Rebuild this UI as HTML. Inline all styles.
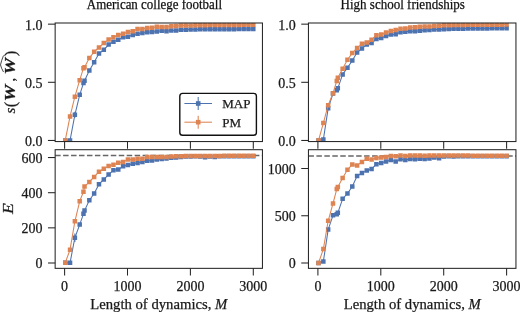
<!DOCTYPE html>
<html><head><meta charset="utf-8"><title>chart</title><style>html,body{margin:0;padding:0;background:#fff;overflow:hidden}
svg{display:block;will-change:transform}
text{font-family:"Liberation Serif",serif;fill:#1a1a1a;stroke:#1a1a1a;stroke-width:0.25px}
.ti{font-size:14px;fill:#111;stroke:#111;stroke-width:0.25px}
.tk{font-size:14px}
.lg{font-size:13px}
.xl{font-size:14.7px}
.yl{font-size:15px}
</style></head><body>
<svg width="520" height="312" viewBox="0 0 520 312">
<rect width="520" height="312" fill="#fff"/>
<text x="86.8" y="8.8" class="ti" textLength="135.2" lengthAdjust="spacingAndGlyphs">American college football</text>
<text x="340.6" y="8.8" class="ti" textLength="124.3" lengthAdjust="spacingAndGlyphs">High school friendships</text>
<line x1="55.15" y1="155.4" x2="262.45" y2="155.4" stroke="#666" stroke-width="1.5" stroke-dasharray="5.5 2.45"/>
<line x1="308.45" y1="155.9" x2="515.95" y2="155.9" stroke="#666" stroke-width="1.5" stroke-dasharray="5.5 2.45"/>
<defs><clipPath id="cTL"><rect x="55.15" y="23" width="207.3" height="118.55"/></clipPath><clipPath id="cBL"><rect x="55.15" y="149.7" width="207.3" height="118.65"/></clipPath><clipPath id="cTR"><rect x="308.45" y="23" width="207.5" height="118.55"/></clipPath><clipPath id="cBR"><rect x="308.45" y="149.7" width="207.5" height="118.65"/></clipPath></defs>
<g clip-path="url(#cTL)">
<line x1="74.87" y1="111.8" x2="74.87" y2="117.8" stroke="#4c72b0" stroke-width="1.1"/>
<polyline points="65.23,140.4 70.05,140.4 74.87,114.8 79.7,94.8 83.47,83.1 84.52,80.7 89.34,70.6 94.16,62.3 98.99,53.6 103.81,49.8 108.63,44.6 113.45,41.7 118.27,39.8 123.1,37.3 127.92,36.8 132.74,35 137.56,33.8 142.39,33.1 147.21,32.3 152.03,31.9 156.85,31.4 161.68,30.8 166.5,31.2 171.32,30.4 176.14,30.4 180.96,29.8 185.79,29.8 190.61,29.4 195.43,29.4 200.25,29.37 205.08,29.33 209.9,29.3 214.72,29.27 219.54,29.23 224.37,29.2 229.19,29.17 234.01,29.13 238.83,29.1 243.66,29.07 248.48,29.03 253.3,29" fill="none" stroke="#4c72b0" stroke-width="1.05" stroke-linejoin="round"/>
<path d="M62.98 138.15h4.5v4.5h-4.5zM67.8 138.15h4.5v4.5h-4.5zM72.62 112.55h4.5v4.5h-4.5zM77.45 92.55h4.5v4.5h-4.5zM81.22 80.85h4.5v4.5h-4.5zM82.27 78.45h4.5v4.5h-4.5zM87.09 68.35h4.5v4.5h-4.5zM91.91 60.05h4.5v4.5h-4.5zM96.74 51.35h4.5v4.5h-4.5zM101.56 47.55h4.5v4.5h-4.5zM106.38 42.35h4.5v4.5h-4.5zM111.2 39.45h4.5v4.5h-4.5zM116.02 37.55h4.5v4.5h-4.5zM120.85 35.05h4.5v4.5h-4.5zM125.67 34.55h4.5v4.5h-4.5zM130.49 32.75h4.5v4.5h-4.5zM135.31 31.55h4.5v4.5h-4.5zM140.14 30.85h4.5v4.5h-4.5zM144.96 30.05h4.5v4.5h-4.5zM149.78 29.65h4.5v4.5h-4.5zM154.6 29.15h4.5v4.5h-4.5zM159.43 28.55h4.5v4.5h-4.5zM164.25 28.95h4.5v4.5h-4.5zM169.07 28.15h4.5v4.5h-4.5zM173.89 28.15h4.5v4.5h-4.5zM178.71 27.55h4.5v4.5h-4.5zM183.54 27.55h4.5v4.5h-4.5zM188.36 27.15h4.5v4.5h-4.5zM193.18 27.15h4.5v4.5h-4.5zM198 27.12h4.5v4.5h-4.5zM202.83 27.08h4.5v4.5h-4.5zM207.65 27.05h4.5v4.5h-4.5zM212.47 27.02h4.5v4.5h-4.5zM217.29 26.98h4.5v4.5h-4.5zM222.12 26.95h4.5v4.5h-4.5zM226.94 26.92h4.5v4.5h-4.5zM231.76 26.88h4.5v4.5h-4.5zM236.58 26.85h4.5v4.5h-4.5zM241.41 26.82h4.5v4.5h-4.5zM246.23 26.78h4.5v4.5h-4.5zM251.05 26.75h4.5v4.5h-4.5z" fill="#4c72b0"/>
<polyline points="65.23,140.4 70.05,116.4 74.87,96.7 79.7,80.2 83.47,68.2 84.52,67.2 89.34,58.1 94.16,51.7 98.99,47.5 103.81,43.1 108.63,39.6 113.45,37.3 118.27,34.9 123.1,33.7 127.92,31.9 132.74,31.2 137.56,29.1 142.39,29.1 147.21,28.1 152.03,27.7 156.85,26.8 161.68,26.9 166.5,26.9 171.32,26.2 176.14,26 180.96,25.5 185.79,25.5 190.61,25.4 195.43,25.2 200.25,25.17 205.08,25.13 209.9,25.1 214.72,25.07 219.54,25.03 224.37,25 229.19,24.97 234.01,24.93 238.83,24.9 243.66,24.87 248.48,24.83 253.3,24.8" fill="none" stroke="#dd8452" stroke-width="1.05" stroke-linejoin="round"/>
<path d="M62.98 138.15h4.5v4.5h-4.5zM67.8 114.15h4.5v4.5h-4.5zM72.62 94.45h4.5v4.5h-4.5zM77.45 77.95h4.5v4.5h-4.5zM81.22 65.95h4.5v4.5h-4.5zM82.27 64.95h4.5v4.5h-4.5zM87.09 55.85h4.5v4.5h-4.5zM91.91 49.45h4.5v4.5h-4.5zM96.74 45.25h4.5v4.5h-4.5zM101.56 40.85h4.5v4.5h-4.5zM106.38 37.35h4.5v4.5h-4.5zM111.2 35.05h4.5v4.5h-4.5zM116.02 32.65h4.5v4.5h-4.5zM120.85 31.45h4.5v4.5h-4.5zM125.67 29.65h4.5v4.5h-4.5zM130.49 28.95h4.5v4.5h-4.5zM135.31 26.85h4.5v4.5h-4.5zM140.14 26.85h4.5v4.5h-4.5zM144.96 25.85h4.5v4.5h-4.5zM149.78 25.45h4.5v4.5h-4.5zM154.6 24.55h4.5v4.5h-4.5zM159.43 24.65h4.5v4.5h-4.5zM164.25 24.65h4.5v4.5h-4.5zM169.07 23.95h4.5v4.5h-4.5zM173.89 23.75h4.5v4.5h-4.5zM178.71 23.25h4.5v4.5h-4.5zM183.54 23.25h4.5v4.5h-4.5zM188.36 23.15h4.5v4.5h-4.5zM193.18 22.95h4.5v4.5h-4.5zM198 22.92h4.5v4.5h-4.5zM202.83 22.88h4.5v4.5h-4.5zM207.65 22.85h4.5v4.5h-4.5zM212.47 22.82h4.5v4.5h-4.5zM217.29 22.78h4.5v4.5h-4.5zM222.12 22.75h4.5v4.5h-4.5zM226.94 22.72h4.5v4.5h-4.5zM231.76 22.68h4.5v4.5h-4.5zM236.58 22.65h4.5v4.5h-4.5zM241.41 22.62h4.5v4.5h-4.5zM246.23 22.58h4.5v4.5h-4.5zM251.05 22.55h4.5v4.5h-4.5z" fill="#dd8452"/>
</g>
<g clip-path="url(#cBL)">
<line x1="74.87" y1="233.5" x2="74.87" y2="241.9" stroke="#4c72b0" stroke-width="1.1"/>
<polyline points="65.23,262.8 70.05,262.8 74.87,237.7 79.7,224.6 83.47,213.8 84.52,210.6 89.34,200.2 94.16,193.5 98.99,184.2 103.81,179.4 108.63,174.6 113.45,170.2 118.27,169.6 123.1,166.2 127.92,165 132.74,163.8 137.56,163.1 142.39,161.9 147.21,160.8 152.03,160.4 156.85,159.6 161.68,159 166.5,158.4 171.32,157.8 176.14,157.4 180.96,156.9 185.79,156.6 190.61,156.4 195.43,156.3 200.25,156.6 205.08,157.2 209.9,156.5 214.72,157.1 219.54,156.3 224.37,156.29 229.19,156.27 234.01,156.26 238.83,156.24 243.66,156.23 248.48,156.21 253.3,156.2" fill="none" stroke="#4c72b0" stroke-width="1.05" stroke-linejoin="round"/>
<path d="M62.98 260.55h4.5v4.5h-4.5zM67.8 260.55h4.5v4.5h-4.5zM72.62 235.45h4.5v4.5h-4.5zM77.45 222.35h4.5v4.5h-4.5zM81.22 211.55h4.5v4.5h-4.5zM82.27 208.35h4.5v4.5h-4.5zM87.09 197.95h4.5v4.5h-4.5zM91.91 191.25h4.5v4.5h-4.5zM96.74 181.95h4.5v4.5h-4.5zM101.56 177.15h4.5v4.5h-4.5zM106.38 172.35h4.5v4.5h-4.5zM111.2 167.95h4.5v4.5h-4.5zM116.02 167.35h4.5v4.5h-4.5zM120.85 163.95h4.5v4.5h-4.5zM125.67 162.75h4.5v4.5h-4.5zM130.49 161.55h4.5v4.5h-4.5zM135.31 160.85h4.5v4.5h-4.5zM140.14 159.65h4.5v4.5h-4.5zM144.96 158.55h4.5v4.5h-4.5zM149.78 158.15h4.5v4.5h-4.5zM154.6 157.35h4.5v4.5h-4.5zM159.43 156.75h4.5v4.5h-4.5zM164.25 156.15h4.5v4.5h-4.5zM169.07 155.55h4.5v4.5h-4.5zM173.89 155.15h4.5v4.5h-4.5zM178.71 154.65h4.5v4.5h-4.5zM183.54 154.35h4.5v4.5h-4.5zM188.36 154.15h4.5v4.5h-4.5zM193.18 154.05h4.5v4.5h-4.5zM198 154.35h4.5v4.5h-4.5zM202.83 154.95h4.5v4.5h-4.5zM207.65 154.25h4.5v4.5h-4.5zM212.47 154.85h4.5v4.5h-4.5zM217.29 154.05h4.5v4.5h-4.5zM222.12 154.04h4.5v4.5h-4.5zM226.94 154.02h4.5v4.5h-4.5zM231.76 154.01h4.5v4.5h-4.5zM236.58 153.99h4.5v4.5h-4.5zM241.41 153.98h4.5v4.5h-4.5zM246.23 153.96h4.5v4.5h-4.5zM251.05 153.95h4.5v4.5h-4.5z" fill="#4c72b0"/>
<polyline points="65.23,262.8 70.05,249.7 74.87,221.3 79.7,201.3 83.47,191.8 84.52,186.6 89.34,181.9 94.16,176.9 98.99,171.7 103.81,168.8 108.63,166 113.45,164.8 118.27,162.7 123.1,161.9 127.92,159.6 132.74,159.6 137.56,158.8 142.39,158.8 147.21,156.9 152.03,156.9 156.85,156.9 161.68,157.1 166.5,157.1 171.32,156.5 176.14,156.2 180.96,156.13 185.79,156.07 190.61,156 195.43,155.98 200.25,155.96 205.08,155.94 209.9,155.92 214.72,155.9 219.54,155.88 224.37,155.87 229.19,155.85 234.01,155.83 238.83,155.81 243.66,155.79 248.48,155.77 253.3,155.75" fill="none" stroke="#dd8452" stroke-width="1.05" stroke-linejoin="round"/>
<path d="M62.98 260.55h4.5v4.5h-4.5zM67.8 247.45h4.5v4.5h-4.5zM72.62 219.05h4.5v4.5h-4.5zM77.45 199.05h4.5v4.5h-4.5zM81.22 189.55h4.5v4.5h-4.5zM82.27 184.35h4.5v4.5h-4.5zM87.09 179.65h4.5v4.5h-4.5zM91.91 174.65h4.5v4.5h-4.5zM96.74 169.45h4.5v4.5h-4.5zM101.56 166.55h4.5v4.5h-4.5zM106.38 163.75h4.5v4.5h-4.5zM111.2 162.55h4.5v4.5h-4.5zM116.02 160.45h4.5v4.5h-4.5zM120.85 159.65h4.5v4.5h-4.5zM125.67 157.35h4.5v4.5h-4.5zM130.49 157.35h4.5v4.5h-4.5zM135.31 156.55h4.5v4.5h-4.5zM140.14 156.55h4.5v4.5h-4.5zM144.96 154.65h4.5v4.5h-4.5zM149.78 154.65h4.5v4.5h-4.5zM154.6 154.65h4.5v4.5h-4.5zM159.43 154.85h4.5v4.5h-4.5zM164.25 154.85h4.5v4.5h-4.5zM169.07 154.25h4.5v4.5h-4.5zM173.89 153.95h4.5v4.5h-4.5zM178.71 153.88h4.5v4.5h-4.5zM183.54 153.82h4.5v4.5h-4.5zM188.36 153.75h4.5v4.5h-4.5zM193.18 153.73h4.5v4.5h-4.5zM198 153.71h4.5v4.5h-4.5zM202.83 153.69h4.5v4.5h-4.5zM207.65 153.67h4.5v4.5h-4.5zM212.47 153.65h4.5v4.5h-4.5zM217.29 153.63h4.5v4.5h-4.5zM222.12 153.62h4.5v4.5h-4.5zM226.94 153.6h4.5v4.5h-4.5zM231.76 153.58h4.5v4.5h-4.5zM236.58 153.56h4.5v4.5h-4.5zM241.41 153.54h4.5v4.5h-4.5zM246.23 153.52h4.5v4.5h-4.5zM251.05 153.5h4.5v4.5h-4.5z" fill="#dd8452"/>
</g>
<g clip-path="url(#cTR)">
<polyline points="318.53,140.4 323.35,139.6 328.17,108.3 333,93.6 336.77,90.2 337.82,88.3 342.64,74.4 347.46,67.7 352.29,60.6 357.11,52.5 361.93,48.4 366.75,44.5 371.57,43.1 376.4,39 381.22,38.1 386.04,36.1 390.86,34.5 395.69,34.2 400.51,32.2 405.33,31.8 410.15,31.2 414.98,31.2 419.8,30.7 424.62,30.3 429.44,29.9 434.26,29.5 439.09,29.5 443.91,29.2 448.73,29.03 453.55,28.87 458.38,28.7 463.2,28.65 468.02,28.6 472.84,28.55 477.67,28.5 482.49,28.45 487.31,28.4 492.13,28.35 496.96,28.3 501.78,28.25 506.6,28.2" fill="none" stroke="#4c72b0" stroke-width="1.05" stroke-linejoin="round"/>
<path d="M316.28 138.15h4.5v4.5h-4.5zM321.1 137.35h4.5v4.5h-4.5zM325.92 106.05h4.5v4.5h-4.5zM330.75 91.35h4.5v4.5h-4.5zM334.52 87.95h4.5v4.5h-4.5zM335.57 86.05h4.5v4.5h-4.5zM340.39 72.15h4.5v4.5h-4.5zM345.21 65.45h4.5v4.5h-4.5zM350.04 58.35h4.5v4.5h-4.5zM354.86 50.25h4.5v4.5h-4.5zM359.68 46.15h4.5v4.5h-4.5zM364.5 42.25h4.5v4.5h-4.5zM369.32 40.85h4.5v4.5h-4.5zM374.15 36.75h4.5v4.5h-4.5zM378.97 35.85h4.5v4.5h-4.5zM383.79 33.85h4.5v4.5h-4.5zM388.61 32.25h4.5v4.5h-4.5zM393.44 31.95h4.5v4.5h-4.5zM398.26 29.95h4.5v4.5h-4.5zM403.08 29.55h4.5v4.5h-4.5zM407.9 28.95h4.5v4.5h-4.5zM412.73 28.95h4.5v4.5h-4.5zM417.55 28.45h4.5v4.5h-4.5zM422.37 28.05h4.5v4.5h-4.5zM427.19 27.65h4.5v4.5h-4.5zM432.01 27.25h4.5v4.5h-4.5zM436.84 27.25h4.5v4.5h-4.5zM441.66 26.95h4.5v4.5h-4.5zM446.48 26.78h4.5v4.5h-4.5zM451.3 26.62h4.5v4.5h-4.5zM456.13 26.45h4.5v4.5h-4.5zM460.95 26.4h4.5v4.5h-4.5zM465.77 26.35h4.5v4.5h-4.5zM470.59 26.3h4.5v4.5h-4.5zM475.42 26.25h4.5v4.5h-4.5zM480.24 26.2h4.5v4.5h-4.5zM485.06 26.15h4.5v4.5h-4.5zM489.88 26.1h4.5v4.5h-4.5zM494.71 26.05h4.5v4.5h-4.5zM499.53 26h4.5v4.5h-4.5zM504.35 25.95h4.5v4.5h-4.5z" fill="#4c72b0"/>
<polyline points="318.53,140.4 323.35,123.1 328.17,105.2 333,93.2 336.77,81 337.82,77.8 342.64,68.7 347.46,59.8 352.29,53.1 357.11,47.9 361.93,43.8 366.75,42.6 371.57,39.7 376.4,35.2 381.22,34.5 386.04,32.6 390.86,30.9 395.69,29.9 400.51,28.8 405.33,28.4 410.15,27.4 414.98,27.2 419.8,26.8 424.62,26.6 429.44,26.5 434.26,26.1 439.09,25.7 443.91,25.3 448.73,25.2 453.55,25.1 458.38,25 463.2,24.9 468.02,24.87 472.84,24.83 477.67,24.8 482.49,24.77 487.31,24.73 492.13,24.7 496.96,24.67 501.78,24.63 506.6,24.6" fill="none" stroke="#dd8452" stroke-width="1.05" stroke-linejoin="round"/>
<path d="M316.28 138.15h4.5v4.5h-4.5zM321.1 120.85h4.5v4.5h-4.5zM325.92 102.95h4.5v4.5h-4.5zM330.75 90.95h4.5v4.5h-4.5zM334.52 78.75h4.5v4.5h-4.5zM335.57 75.55h4.5v4.5h-4.5zM340.39 66.45h4.5v4.5h-4.5zM345.21 57.55h4.5v4.5h-4.5zM350.04 50.85h4.5v4.5h-4.5zM354.86 45.65h4.5v4.5h-4.5zM359.68 41.55h4.5v4.5h-4.5zM364.5 40.35h4.5v4.5h-4.5zM369.32 37.45h4.5v4.5h-4.5zM374.15 32.95h4.5v4.5h-4.5zM378.97 32.25h4.5v4.5h-4.5zM383.79 30.35h4.5v4.5h-4.5zM388.61 28.65h4.5v4.5h-4.5zM393.44 27.65h4.5v4.5h-4.5zM398.26 26.55h4.5v4.5h-4.5zM403.08 26.15h4.5v4.5h-4.5zM407.9 25.15h4.5v4.5h-4.5zM412.73 24.95h4.5v4.5h-4.5zM417.55 24.55h4.5v4.5h-4.5zM422.37 24.35h4.5v4.5h-4.5zM427.19 24.25h4.5v4.5h-4.5zM432.01 23.85h4.5v4.5h-4.5zM436.84 23.45h4.5v4.5h-4.5zM441.66 23.05h4.5v4.5h-4.5zM446.48 22.95h4.5v4.5h-4.5zM451.3 22.85h4.5v4.5h-4.5zM456.13 22.75h4.5v4.5h-4.5zM460.95 22.65h4.5v4.5h-4.5zM465.77 22.62h4.5v4.5h-4.5zM470.59 22.58h4.5v4.5h-4.5zM475.42 22.55h4.5v4.5h-4.5zM480.24 22.52h4.5v4.5h-4.5zM485.06 22.48h4.5v4.5h-4.5zM489.88 22.45h4.5v4.5h-4.5zM494.71 22.42h4.5v4.5h-4.5zM499.53 22.38h4.5v4.5h-4.5zM504.35 22.35h4.5v4.5h-4.5z" fill="#dd8452"/>
</g>
<g clip-path="url(#cBR)">
<polyline points="318.53,263 323.35,261.5 328.17,229.6 333,215.3 336.77,214.2 337.82,212.8 342.64,198.8 347.46,193.5 352.29,186.5 357.11,176 361.93,173.1 366.75,170.6 371.57,168.9 376.4,164.3 381.22,162.9 386.04,161.5 390.86,160.1 395.69,161.5 400.51,159.2 405.33,160.1 410.15,159 414.98,159.2 419.8,158.7 424.62,159 429.44,158.6 434.26,157.4 439.09,158.3 443.91,156.6 448.73,156.3 453.55,156.6 458.38,156.3 463.2,156.29 468.02,156.28 472.84,156.27 477.67,156.26 482.49,156.25 487.31,156.24 492.13,156.23 496.96,156.22 501.78,156.21 506.6,156.2" fill="none" stroke="#4c72b0" stroke-width="1.05" stroke-linejoin="round"/>
<path d="M316.28 260.75h4.5v4.5h-4.5zM321.1 259.25h4.5v4.5h-4.5zM325.92 227.35h4.5v4.5h-4.5zM330.75 213.05h4.5v4.5h-4.5zM334.52 211.95h4.5v4.5h-4.5zM335.57 210.55h4.5v4.5h-4.5zM340.39 196.55h4.5v4.5h-4.5zM345.21 191.25h4.5v4.5h-4.5zM350.04 184.25h4.5v4.5h-4.5zM354.86 173.75h4.5v4.5h-4.5zM359.68 170.85h4.5v4.5h-4.5zM364.5 168.35h4.5v4.5h-4.5zM369.32 166.65h4.5v4.5h-4.5zM374.15 162.05h4.5v4.5h-4.5zM378.97 160.65h4.5v4.5h-4.5zM383.79 159.25h4.5v4.5h-4.5zM388.61 157.85h4.5v4.5h-4.5zM393.44 159.25h4.5v4.5h-4.5zM398.26 156.95h4.5v4.5h-4.5zM403.08 157.85h4.5v4.5h-4.5zM407.9 156.75h4.5v4.5h-4.5zM412.73 156.95h4.5v4.5h-4.5zM417.55 156.45h4.5v4.5h-4.5zM422.37 156.75h4.5v4.5h-4.5zM427.19 156.35h4.5v4.5h-4.5zM432.01 155.15h4.5v4.5h-4.5zM436.84 156.05h4.5v4.5h-4.5zM441.66 154.35h4.5v4.5h-4.5zM446.48 154.05h4.5v4.5h-4.5zM451.3 154.35h4.5v4.5h-4.5zM456.13 154.05h4.5v4.5h-4.5zM460.95 154.04h4.5v4.5h-4.5zM465.77 154.03h4.5v4.5h-4.5zM470.59 154.02h4.5v4.5h-4.5zM475.42 154.01h4.5v4.5h-4.5zM480.24 154h4.5v4.5h-4.5zM485.06 153.99h4.5v4.5h-4.5zM489.88 153.98h4.5v4.5h-4.5zM494.71 153.97h4.5v4.5h-4.5zM499.53 153.96h4.5v4.5h-4.5zM504.35 153.95h4.5v4.5h-4.5z" fill="#4c72b0"/>
<polyline points="318.53,263 323.35,249.1 328.17,220.8 333,203.5 336.77,189.1 337.82,186.9 342.64,177.9 347.46,169.8 352.29,164.4 357.11,165.4 361.93,161.9 366.75,158.7 371.57,159.6 376.4,158.1 381.22,157.5 386.04,156.9 390.86,156 395.69,156.3 400.51,155.4 405.33,156 410.15,155.4 414.98,155.4 419.8,155.4 424.62,155.8 429.44,155.4 434.26,155.43 439.09,155.45 443.91,155.47 448.73,155.5 453.55,155.53 458.38,155.55 463.2,155.58 468.02,155.6 472.84,155.62 477.67,155.65 482.49,155.68 487.31,155.7 492.13,155.73 496.96,155.75 501.78,155.78 506.6,155.8" fill="none" stroke="#dd8452" stroke-width="1.05" stroke-linejoin="round"/>
<path d="M316.28 260.75h4.5v4.5h-4.5zM321.1 246.85h4.5v4.5h-4.5zM325.92 218.55h4.5v4.5h-4.5zM330.75 201.25h4.5v4.5h-4.5zM334.52 186.85h4.5v4.5h-4.5zM335.57 184.65h4.5v4.5h-4.5zM340.39 175.65h4.5v4.5h-4.5zM345.21 167.55h4.5v4.5h-4.5zM350.04 162.15h4.5v4.5h-4.5zM354.86 163.15h4.5v4.5h-4.5zM359.68 159.65h4.5v4.5h-4.5zM364.5 156.45h4.5v4.5h-4.5zM369.32 157.35h4.5v4.5h-4.5zM374.15 155.85h4.5v4.5h-4.5zM378.97 155.25h4.5v4.5h-4.5zM383.79 154.65h4.5v4.5h-4.5zM388.61 153.75h4.5v4.5h-4.5zM393.44 154.05h4.5v4.5h-4.5zM398.26 153.15h4.5v4.5h-4.5zM403.08 153.75h4.5v4.5h-4.5zM407.9 153.15h4.5v4.5h-4.5zM412.73 153.15h4.5v4.5h-4.5zM417.55 153.15h4.5v4.5h-4.5zM422.37 153.55h4.5v4.5h-4.5zM427.19 153.15h4.5v4.5h-4.5zM432.01 153.18h4.5v4.5h-4.5zM436.84 153.2h4.5v4.5h-4.5zM441.66 153.22h4.5v4.5h-4.5zM446.48 153.25h4.5v4.5h-4.5zM451.3 153.28h4.5v4.5h-4.5zM456.13 153.3h4.5v4.5h-4.5zM460.95 153.33h4.5v4.5h-4.5zM465.77 153.35h4.5v4.5h-4.5zM470.59 153.38h4.5v4.5h-4.5zM475.42 153.4h4.5v4.5h-4.5zM480.24 153.43h4.5v4.5h-4.5zM485.06 153.45h4.5v4.5h-4.5zM489.88 153.48h4.5v4.5h-4.5zM494.71 153.5h4.5v4.5h-4.5zM499.53 153.53h4.5v4.5h-4.5zM504.35 153.55h4.5v4.5h-4.5z" fill="#dd8452"/>
</g>
<rect x="55.15" y="23" width="207.3" height="118.55" fill="none" stroke="#262626" stroke-width="1.05"/>
<line x1="47.95" y1="140.45" x2="55.15" y2="140.45" stroke="#262626" stroke-width="1.05"/>
<text x="42.55" y="145.85" text-anchor="end" class="tk">0.0</text>
<line x1="47.95" y1="82.3" x2="55.15" y2="82.3" stroke="#262626" stroke-width="1.05"/>
<text x="42.55" y="87.7" text-anchor="end" class="tk">0.5</text>
<line x1="47.95" y1="24.15" x2="55.15" y2="24.15" stroke="#262626" stroke-width="1.05"/>
<text x="42.55" y="29.55" text-anchor="end" class="tk">1.0</text>
<line x1="64.6" y1="141.55" x2="64.6" y2="148.75" stroke="#262626" stroke-width="1.05"/>
<line x1="127.5" y1="141.55" x2="127.5" y2="148.75" stroke="#262626" stroke-width="1.05"/>
<line x1="190.4" y1="141.55" x2="190.4" y2="148.75" stroke="#262626" stroke-width="1.05"/>
<line x1="253.3" y1="141.55" x2="253.3" y2="148.75" stroke="#262626" stroke-width="1.05"/>
<rect x="55.15" y="149.7" width="207.3" height="118.65" fill="none" stroke="#262626" stroke-width="1.05"/>
<line x1="47.95" y1="263" x2="55.15" y2="263" stroke="#262626" stroke-width="1.05"/>
<text x="42.55" y="268.4" text-anchor="end" class="tk">0</text>
<line x1="47.95" y1="227.85" x2="55.15" y2="227.85" stroke="#262626" stroke-width="1.05"/>
<text x="42.55" y="233.25" text-anchor="end" class="tk">200</text>
<line x1="47.95" y1="192.7" x2="55.15" y2="192.7" stroke="#262626" stroke-width="1.05"/>
<text x="42.55" y="198.1" text-anchor="end" class="tk">400</text>
<line x1="47.95" y1="157.55" x2="55.15" y2="157.55" stroke="#262626" stroke-width="1.05"/>
<text x="42.55" y="162.95" text-anchor="end" class="tk">600</text>
<line x1="64.6" y1="268.35" x2="64.6" y2="275.55" stroke="#262626" stroke-width="1.05"/>
<text x="64.6" y="291" text-anchor="middle" class="tk">0</text>
<line x1="127.5" y1="268.35" x2="127.5" y2="275.55" stroke="#262626" stroke-width="1.05"/>
<text x="127.5" y="291" text-anchor="middle" class="tk">1000</text>
<line x1="190.4" y1="268.35" x2="190.4" y2="275.55" stroke="#262626" stroke-width="1.05"/>
<text x="190.4" y="291" text-anchor="middle" class="tk">2000</text>
<line x1="253.3" y1="268.35" x2="253.3" y2="275.55" stroke="#262626" stroke-width="1.05"/>
<text x="253.3" y="291" text-anchor="middle" class="tk">3000</text>
<rect x="308.45" y="23" width="207.5" height="118.55" fill="none" stroke="#262626" stroke-width="1.05"/>
<line x1="301.25" y1="140.45" x2="308.45" y2="140.45" stroke="#262626" stroke-width="1.05"/>
<text x="295.85" y="145.85" text-anchor="end" class="tk">0.0</text>
<line x1="301.25" y1="82.3" x2="308.45" y2="82.3" stroke="#262626" stroke-width="1.05"/>
<text x="295.85" y="87.7" text-anchor="end" class="tk">0.5</text>
<line x1="301.25" y1="24.15" x2="308.45" y2="24.15" stroke="#262626" stroke-width="1.05"/>
<text x="295.85" y="29.55" text-anchor="end" class="tk">1.0</text>
<line x1="317.9" y1="141.55" x2="317.9" y2="148.75" stroke="#262626" stroke-width="1.05"/>
<line x1="380.8" y1="141.55" x2="380.8" y2="148.75" stroke="#262626" stroke-width="1.05"/>
<line x1="443.7" y1="141.55" x2="443.7" y2="148.75" stroke="#262626" stroke-width="1.05"/>
<line x1="506.6" y1="141.55" x2="506.6" y2="148.75" stroke="#262626" stroke-width="1.05"/>
<rect x="308.45" y="149.7" width="207.5" height="118.65" fill="none" stroke="#262626" stroke-width="1.05"/>
<line x1="301.25" y1="263" x2="308.45" y2="263" stroke="#262626" stroke-width="1.05"/>
<text x="295.85" y="268.4" text-anchor="end" class="tk">0</text>
<line x1="301.25" y1="215.75" x2="308.45" y2="215.75" stroke="#262626" stroke-width="1.05"/>
<text x="295.85" y="221.15" text-anchor="end" class="tk">500</text>
<line x1="301.25" y1="168.5" x2="308.45" y2="168.5" stroke="#262626" stroke-width="1.05"/>
<text x="295.85" y="173.9" text-anchor="end" class="tk">1000</text>
<line x1="317.9" y1="268.35" x2="317.9" y2="275.55" stroke="#262626" stroke-width="1.05"/>
<text x="317.9" y="291" text-anchor="middle" class="tk">0</text>
<line x1="380.8" y1="268.35" x2="380.8" y2="275.55" stroke="#262626" stroke-width="1.05"/>
<text x="380.8" y="291" text-anchor="middle" class="tk">1000</text>
<line x1="443.7" y1="268.35" x2="443.7" y2="275.55" stroke="#262626" stroke-width="1.05"/>
<text x="443.7" y="291" text-anchor="middle" class="tk">2000</text>
<line x1="506.6" y1="268.35" x2="506.6" y2="275.55" stroke="#262626" stroke-width="1.05"/>
<text x="506.6" y="291" text-anchor="middle" class="tk">3000</text>
<rect x="179.8" y="93.4" width="76.6" height="41.9" rx="2.8" fill="#fff" stroke="#111" stroke-width="1.4"/>
<line x1="184.4" y1="103.5" x2="212" y2="103.5" stroke="#4c72b0" stroke-width="1.05"/>
<line x1="198.2" y1="97.0" x2="198.2" y2="110.0" stroke="#4c72b0" stroke-width="1.05"/>
<rect x="195.89999999999998" y="101.2" width="4.6" height="4.6" fill="#4c72b0"/>
<text x="222.3" y="108.1" class="lg">MAP</text>
<line x1="184.4" y1="122.2" x2="212" y2="122.2" stroke="#dd8452" stroke-width="1.05"/>
<line x1="198.2" y1="115.7" x2="198.2" y2="128.7" stroke="#dd8452" stroke-width="1.05"/>
<rect x="195.89999999999998" y="119.9" width="4.6" height="4.6" fill="#dd8452"/>
<text x="222.3" y="126.8" class="lg">PM</text>
<text x="158.8" y="308.6" text-anchor="middle" class="xl">Length of dynamics, <tspan font-style="italic">M</tspan></text>
<text x="412.2" y="308.6" text-anchor="middle" class="xl">Length of dynamics, <tspan font-style="italic">M</tspan></text>
<g transform="translate(15.4,113.6) rotate(-90)" class="yl">
<text x="0.0" y="0" font-style="italic">s</text>
<text x="6.3" y="0.5" font-size="16.5">(</text>
<text transform="translate(12.4,0) scale(1.24,1)" font-style="italic" font-weight="bold">W</text>
<text x="32.2" y="0" >,</text>
<text transform="translate(39.0,0) scale(1.24,1)" font-style="italic" font-weight="bold">W</text>
<path d="M41.6 -11.9 Q45.5 -14.2 48.7 -14.9 Q52.4 -14.2 58.1 -11.9" fill="none" stroke="#262626" stroke-width="0.85"/>
<text x="57.4" y="0.5" font-size="16.5">)</text>
</g>
<g transform="translate(12.6,214.0) rotate(-90)" class="yl"><text transform="scale(1.18,1)" font-style="italic" stroke-width="0.1">E</text></g>
</svg>
</body></html>
